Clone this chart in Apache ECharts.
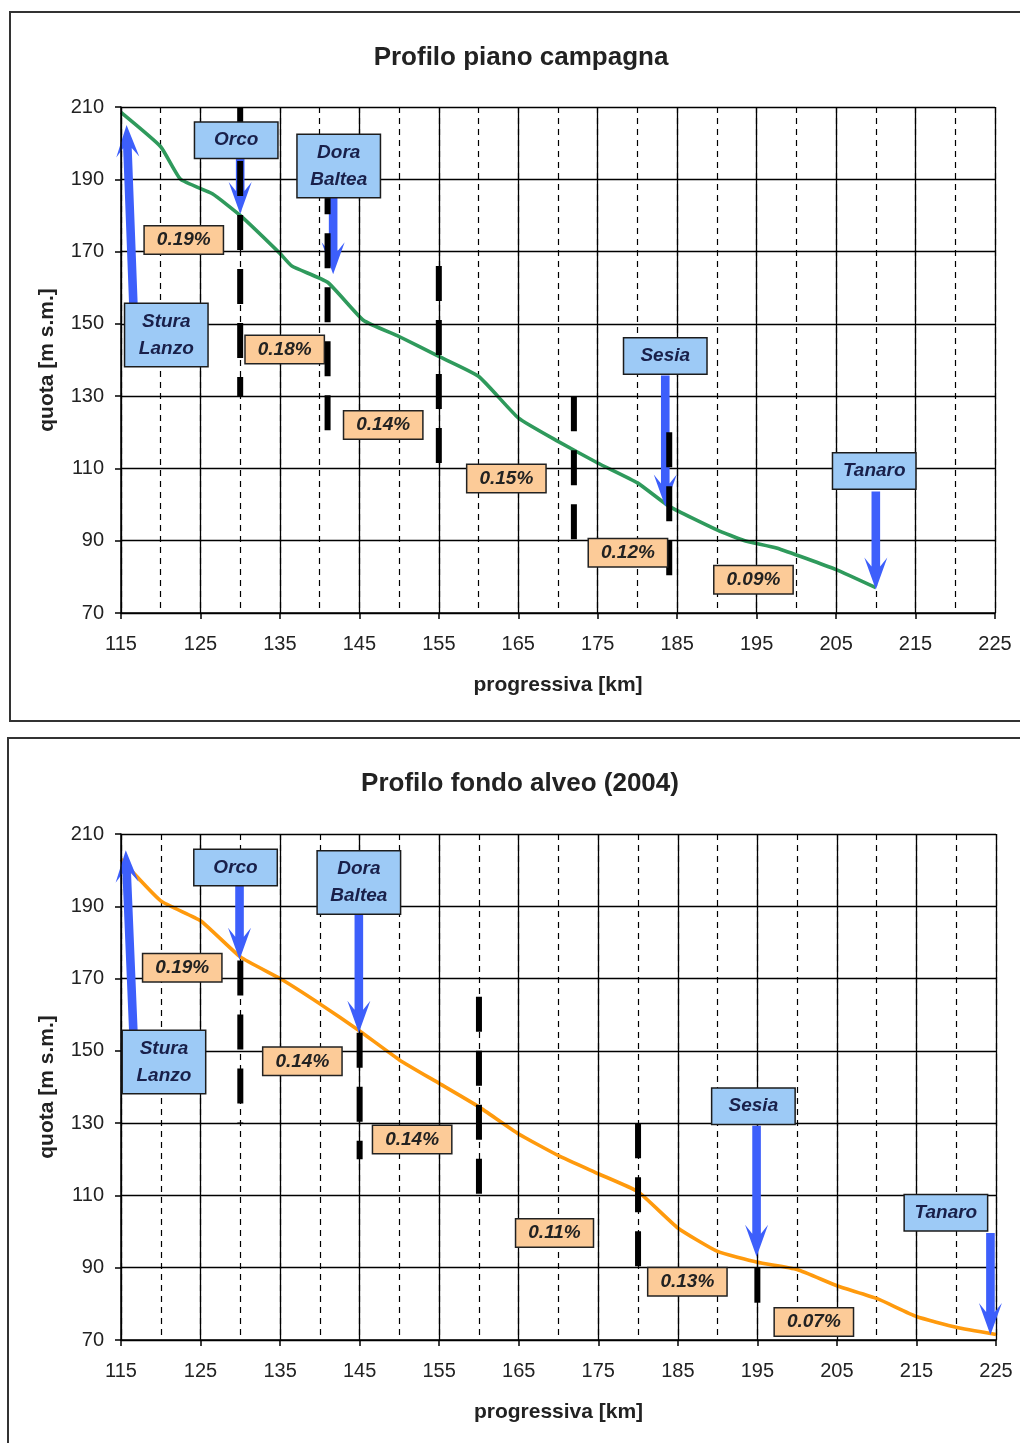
<!DOCTYPE html>
<html>
<head>
<meta charset="utf-8">
<script src="https://cdn.jsdelivr.net/npm/echarts@6/dist/echarts.min.js"></script>
<style>
  html, body { margin: 0; padding: 0; background: #fff; }
  #c { width: 1020px; height: 1443px; }
</style>
</head>
<body>
<div id="c"></div>
<script>
// ---- axis ticks ----
const kmTicks = [115, 125, 135, 145, 155, 165, 175, 185, 195, 205, 215, 225];
const quotaTicks = [70, 90, 110, 130, 150, 170, 190, 210];

// ---- ground level profile (piano campagna) ----
const kmTop = [115, 120, 122.5, 126.5, 130, 135, 136.5, 141, 145.5, 150, 155, 160, 165, 170, 175, 180, 184, 190, 193.5, 197.5, 205, 210];
const quotaTop = [208.5, 199, 190, 186, 180, 169.5, 166, 161.5, 151, 146.5, 141, 135.5, 124, 117.5, 111.5, 106, 99.5, 93, 90, 88, 82, 77];

// ---- riverbed profile (fondo alveo 2004) ----
const kmBottom = [115, 120, 125, 130, 135, 140, 145, 150, 155, 160, 165, 170, 175, 180, 185, 190, 195, 200, 205, 210, 215, 220, 225];
const quotaBottom = [203, 191.5, 186, 176, 170, 163, 155.5, 147.5, 141, 134.5, 127, 121, 116, 111, 101, 94.5, 91.5, 89.5, 85, 81.5, 76.5, 73.5, 71.5];

// ---- tributaries ----
const tribNames = ['Stura\nLanzo', 'Orco', 'Dora\nBaltea', 'Sesia', 'Tanaro'];
// label anchors (km, quota)
const tribLabelKmTop = [120.7, 129.5, 142.4, 183.5, 209.8];
const tribLabelQuotaTop = [146.9, 200.8, 193.7, 141.1, 109.3];
const tribLabelKmBottom = [120.4, 129.4, 144.9, 194.5, 218.7];
const tribLabelQuotaBottom = [146.9, 200.7, 196.6, 134.7, 105.2];
// arrows: from label to confluence
const arrowFromKmTop = [116.6, 130, 141.7, 183.5, 210];
const arrowFromQuotaTop = [153, 196.4, 185.1, 135.7, 103.6];
const arrowToKmTop = [115.7, 130, 141.7, 183.5, 210];
const arrowToQuotaTop = [205, 180.4, 163.7, 99.5, 76.5];
const arrowFromKmBottom = [116.6, 129.9, 144.9, 194.9, 224.3];
const arrowFromQuotaBottom = [153, 196, 187.7, 129.3, 99.6];
const arrowToKmBottom = [115.6, 129.9, 144.9, 194.9, 224.3];
const arrowToQuotaBottom = [205.5, 175.2, 155, 93, 71.4];

// ---- reach boundaries (km, upper quota, lower quota) ----
const breakKmTop = [130, 141, 155, 172, 184];
const breakHighTop = [210, 190, 166, 130, 120];
const breakLowTop = [130, 120, 110, 90, 80];
const breakKmBottom = [130, 145, 160, 180, 195];
const breakHighBottom = [175, 155, 165, 130, 90];
const breakLowBottom = [130, 120, 110, 90, 80];

// ---- mean slope of each reach ----
const slopeTextTop = ['0.19%', '0.18%', '0.14%', '0.15%', '0.12%', '0.09%'];
const slopeKmTop = [122.9, 135.6, 148.0, 163.5, 178.8, 194.6];
const slopeQuotaTop = [173.2, 142.9, 122.0, 107.2, 86.7, 79.2];
const slopeTextBottom = ['0.19%', '0.14%', '0.14%', '0.11%', '0.13%', '0.07%'];
const slopeKmBottom = [122.7, 137.8, 151.6, 169.5, 186.2, 202.1];
const slopeQuotaBottom = [173.0, 147.1, 125.5, 99.6, 86.1, 75.0];

const FONT = "'Liberation Sans', Arial, Helvetica, sans-serif";
const zip2 = (a, b) => a.map((v, i) => [v, b[i]]);

function xAxesFor(g) {
  return [
    {
      type: 'value', gridIndex: g, position: 'bottom',
      min: kmTicks[0], max: kmTicks[kmTicks.length - 1], interval: kmTicks[1] - kmTicks[0],
      z: 3,
      axisLine: { show: true, onZero: false, lineStyle: { color: '#000', width: 1.5 } },
      axisTick: { show: true, inside: false, length: 6, lineStyle: { color: '#000', width: 1.5 } },
      axisLabel: { fontFamily: FONT, fontSize: 20, color: '#222', margin: 21 },
      splitLine: { show: true, lineStyle: { color: '#000', width: 1.3 } },
      name: 'progressiva [km]', nameLocation: 'middle', nameGap: 62,
      nameTextStyle: { fontFamily: FONT, fontSize: 21, fontWeight: 'bold', color: '#222' }
    },
    {
      // intermediate 5 km lines, dashed
      type: 'value', gridIndex: g, position: 'top',
      min: kmTicks[0], max: kmTicks[kmTicks.length - 1], interval: (kmTicks[1] - kmTicks[0]) / 2,
      z: 1,
      axisLine: { show: false }, axisTick: { show: false }, axisLabel: { show: false },
      splitLine: { show: true, lineStyle: { color: '#000', width: 1.2, type: [6, 5] } }
    }
  ];
}

function yAxisFor(g) {
  return {
    type: 'value', gridIndex: g,
    min: quotaTicks[0], max: quotaTicks[quotaTicks.length - 1], interval: quotaTicks[1] - quotaTicks[0],
    z: 3,
    axisLine: { show: true, onZero: false, lineStyle: { color: '#000', width: 1.5 } },
    axisTick: { show: true, inside: false, length: 6, lineStyle: { color: '#000', width: 1.5 } },
    axisLabel: { fontFamily: FONT, fontSize: 20, color: '#222', margin: 17 },
    splitLine: { show: true, lineStyle: { color: '#000', width: 1.3 } },
    name: 'quota [m s.m.]', nameLocation: 'middle', nameGap: 63,
    nameTextStyle: { fontFamily: FONT, fontSize: 21, fontWeight: 'bold', color: '#222' }
  };
}

// block arrow with notched head, drawn in pixel space between two data points
function renderArrow(params, api) {
  const p0 = api.coord([api.value(0), api.value(1)]);
  const p1 = api.coord([api.value(2), api.value(3)]);
  const dx = p1[0] - p0[0], dy = p1[1] - p0[1];
  const L = Math.hypot(dx, dy) || 1;
  const ux = dx / L, uy = dy / L, nx = -uy, ny = ux;
  const headLen = 32, headHalf = 11.5, notch = 9, shaftHalf = 4.3;
  const pt = (base, along, side) => [base[0] + ux * along + nx * side, base[1] + uy * along + ny * side];
  const points = [
    pt(p0, 0, shaftHalf),
    pt(p1, -(headLen - notch), shaftHalf),
    pt(p1, -headLen, headHalf),
    p1,
    pt(p1, -headLen, -headHalf),
    pt(p1, -(headLen - notch), -shaftHalf),
    pt(p0, 0, -shaftHalf)
  ];
  return { type: 'polygon', shape: { points }, style: { fill: '#3d5ffb' } };
}

// heavy dashed marker at a reach boundary
function renderBreak(params, api) {
  const a = api.coord([api.value(0), api.value(1)]);
  const b = api.coord([api.value(0), api.value(2)]);
  return {
    type: 'line',
    shape: { x1: a[0], y1: a[1], x2: b[0], y2: b[1] },
    style: { stroke: '#000', lineWidth: 6, lineDash: [35, 19] }
  };
}

function seriesFor(g, km, quota, color, tribKm, tribQ, fromKm, fromQ, toKm, toQ, brKm, brHi, brLo, slText, slKm, slQ) {
  const ax = { xAxisIndex: 2 * g, yAxisIndex: g };
  return [
    Object.assign({
      type: 'line', data: zip2(km, quota), showSymbol: false, symbol: 'none', smooth: 0.15, z: 2,
      lineStyle: { color: color, width: 3.6 }, silent: true
    }, ax),
    Object.assign({
      type: 'custom', renderItem: renderArrow, clip: false, z: 3, silent: true,
      data: fromKm.map((v, i) => [v, fromQ[i], toKm[i], toQ[i]])
    }, ax),
    Object.assign({
      type: 'custom', renderItem: renderBreak, clip: false, z: 4, silent: true,
      data: brKm.map((v, i) => [v, brHi[i], brLo[i]])
    }, ax),
    Object.assign({
      type: 'scatter', symbolSize: 1, z: 5, silent: true,
      itemStyle: { color: 'rgba(0,0,0,0)', opacity: 1 },
      data: tribNames.map((n, i) => ({ name: n, value: [tribKm[i], tribQ[i]] })),
      label: {
        show: true, position: 'inside', formatter: '{b}',
        fontFamily: FONT, fontSize: 19, fontWeight: 'bold', fontStyle: 'italic', color: '#19204a',
        backgroundColor: '#9dcaf6', borderColor: '#1c1c1c', borderWidth: 1.5,
        padding: [4, 6], width: 70, align: 'center', verticalAlign: 'middle', lineHeight: 27
      }
    }, ax),
    Object.assign({
      type: 'scatter', symbolSize: 1, z: 5, silent: true,
      itemStyle: { color: 'rgba(0,0,0,0)', opacity: 1 },
      data: slText.map((t, i) => ({ name: t, value: [slKm[i], slQ[i]] })),
      label: {
        show: true, position: 'inside', formatter: '{b}',
        fontFamily: FONT, fontSize: 19, fontWeight: 'bold', fontStyle: 'italic', color: '#222',
        backgroundColor: '#fccb98', borderColor: '#222', borderWidth: 1.5,
        padding: [4, 12], align: 'center', verticalAlign: 'middle', lineHeight: 19
      }
    }, ax)
  ];
}

const chart = echarts.init(document.getElementById('c'), null, { renderer: 'canvas' });

chart.setOption({
  backgroundColor: '#fff',
  animation: false,
  graphic: [
    { type: 'rect', shape: { x: 10, y: 12, width: 1040, height: 709 }, style: { fill: 'none', stroke: '#333', lineWidth: 2 }, z: 0 },
    { type: 'rect', shape: { x: 8, y: 738, width: 1040, height: 740 }, style: { fill: 'none', stroke: '#333', lineWidth: 2 }, z: 0 },
    { type: 'text', x: 521, y: 58, style: { text: 'Profilo piano campagna', fontFamily: FONT, fontSize: 26, fontWeight: 'bold', fill: '#222', align: 'center', verticalAlign: 'middle' } },
    { type: 'text', x: 520, y: 784, style: { text: 'Profilo fondo alveo (2004)', fontFamily: FONT, fontSize: 26, fontWeight: 'bold', fill: '#222', align: 'center', verticalAlign: 'middle' } }
  ],
  grid: [
    { left: 121, top: 107, width: 874, height: 506 },
    { left: 121, top: 834, width: 875, height: 506 }
  ],
  xAxis: xAxesFor(0).concat(xAxesFor(1)),
  yAxis: [yAxisFor(0), yAxisFor(1)],
  series: [].concat(
    seriesFor(0, kmTop, quotaTop, '#2f9a5c',
      tribLabelKmTop, tribLabelQuotaTop, arrowFromKmTop, arrowFromQuotaTop, arrowToKmTop, arrowToQuotaTop,
      breakKmTop, breakHighTop, breakLowTop, slopeTextTop, slopeKmTop, slopeQuotaTop),
    seriesFor(1, kmBottom, quotaBottom, '#ff9a0d',
      tribLabelKmBottom, tribLabelQuotaBottom, arrowFromKmBottom, arrowFromQuotaBottom, arrowToKmBottom, arrowToQuotaBottom,
      breakKmBottom, breakHighBottom, breakLowBottom, slopeTextBottom, slopeKmBottom, slopeQuotaBottom)
  )
});
</script>
</body>
</html>
